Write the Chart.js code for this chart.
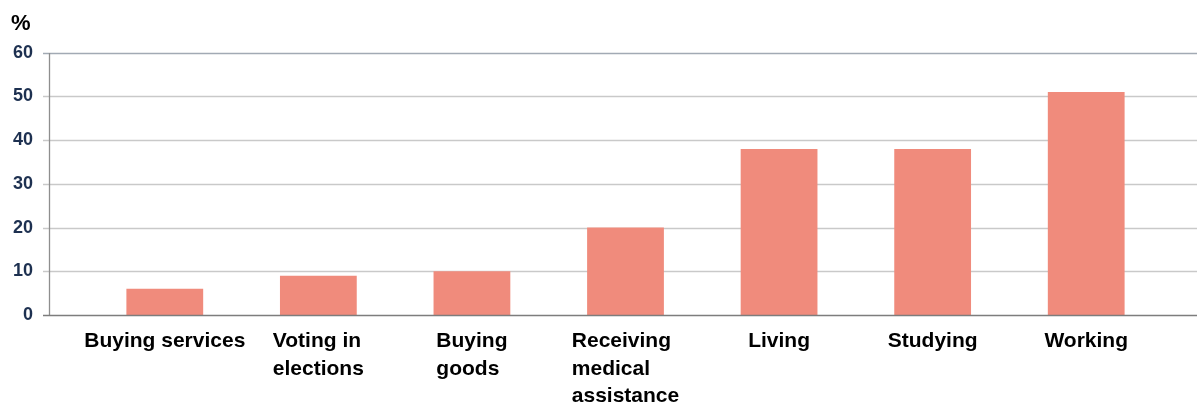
<!DOCTYPE html>
<html>
<head>
<meta charset="utf-8">
<script src="https://cdn.jsdelivr.net/npm/chart.js@4.4.1/dist/chart.umd.min.js"></script>
<style>
  html, body { margin: 0; padding: 0; background: #fff; }
  #wrap { width: 1197px; height: 405px; }
</style>
</head>
<body>
<div id="wrap"><canvas id="usesChart"></canvas></div>
<script>
// categories (wrapped as they are printed), shares in %
const categories = [
  ['Buying services'],
  ['Voting in', 'elections'],
  ['Buying', 'goods'],
  ['Receiving', 'medical', 'assistance'],
  ['Living'],
  ['Studying'],
  ['Working']
];
const shares = [6, 9, 10, 20, 38, 38, 51];
const yTicks = [0, 10, 20, 30, 40, 50, 60];
const unitLabel = '%';

const BAR = 'rgb(240,139,124)';
const FAMILY = '"Liberation Sans", Arial, sans-serif';
const LABEL_FONT = 'bold 21px ' + FAMILY;

// horizontal grid runs past the plot on both sides, plus the left axis
const gridLines = {
  id: 'gridLines',
  beforeDatasetsDraw(chart) {
    const { ctx, scales: { y }, width } = chart;
    ctx.save();
    ctx.lineWidth = 1.3;
    y.ticks.forEach(t => {
      if (t.value === 0) return;
      const py = Math.round(y.getPixelForValue(t.value)) + 0.5;
      ctx.strokeStyle = t.value === yTicks[yTicks.length - 1] ? '#a2aab4' : '#c9c9c9';
      ctx.beginPath();
      ctx.moveTo(43, py);
      ctx.lineTo(width, py);
      ctx.stroke();
    });
    ctx.strokeStyle = '#8e8e8e';
    ctx.beginPath();
    ctx.moveTo(49.5, Math.round(y.top));
    ctx.lineTo(49.5, Math.round(y.bottom));
    ctx.stroke();
    ctx.restore();
  },
  afterDatasetsDraw(chart) {
    const { ctx, scales: { y }, width } = chart;
    const py = Math.round(y.getPixelForValue(0)) + 0.5;
    ctx.save();
    ctx.lineWidth = 1.3;
    ctx.strokeStyle = '#7d7d7d';
    ctx.beginPath();
    ctx.moveTo(43, py);
    ctx.lineTo(width, py);
    ctx.stroke();
    ctx.restore();
  }
};

// category labels: lines left aligned inside a block centred on the bar,
// and the unit sign above the value axis
const blockLabels = {
  id: 'blockLabels',
  afterDraw(chart) {
    const { ctx, scales: { x } } = chart;
    ctx.save();
    ctx.font = LABEL_FONT;
    ctx.fillStyle = '#000';
    ctx.textAlign = 'left';
    ctx.textBaseline = 'alphabetic';
    categories.forEach((lines, i) => {
      const cx = x.getPixelForValue(i);
      const w = Math.max(...lines.map(l => ctx.measureText(l).width));
      lines.forEach((l, j) => {
        ctx.fillText(l, cx - w / 2, x.bottom + 32 + j * 27.5);
      });
    });
    ctx.font = 'bold 22px ' + FAMILY;
    ctx.fillText(unitLabel, 11, 30);
    ctx.restore();
  }
};

new Chart(document.getElementById('usesChart'), {
  type: 'bar',
  data: {
    labels: categories,
    datasets: [{
      data: shares,
      backgroundColor: BAR,
      borderWidth: 0,
      barPercentage: 0.5,
      categoryPercentage: 1
    }]
  },
  options: {
    responsive: true,
    maintainAspectRatio: false,
    animation: false,
    layout: { padding: { left: 12, right: 34, top: 52.7, bottom: 90 } },
    plugins: {
      legend: { display: false },
      tooltip: { enabled: false }
    },
    scales: {
      x: {
        grid: { display: false, drawTicks: false },
        border: { display: false },
        ticks: { display: false }
      },
      y: {
        min: yTicks[0],
        max: yTicks[yTicks.length - 1],
        afterFit: s => { s.width = 76; s.paddingTop = 0; s.paddingBottom = 0; },
        afterBuildTicks: s => { s.ticks = yTicks.map(v => ({ value: v })); },
        grid: { display: false, drawTicks: false },
        border: { display: false },
        ticks: {
          padding: 55,
          color: '#1d3050',
          font: { family: FAMILY, size: 18, weight: 'bold' }
        }
      }
    }
  },
  plugins: [gridLines, blockLabels]
});
</script>
</body>
</html>
